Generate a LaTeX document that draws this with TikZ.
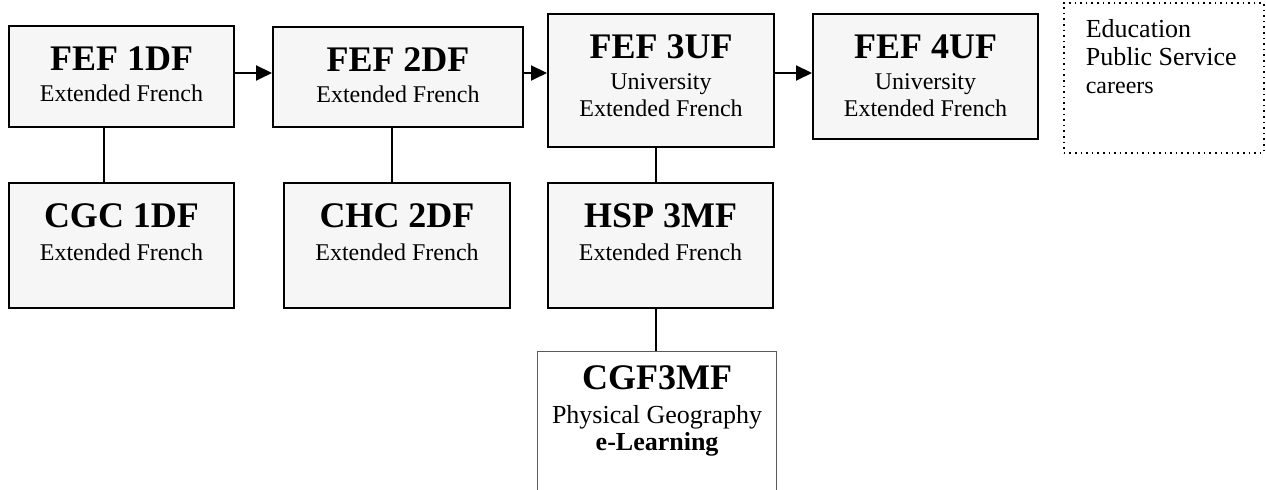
\documentclass[tikz,border=0pt]{standalone}
\usepackage{fontspec}
\setmainfont{Liberation Serif}
\usetikzlibrary{arrows.meta}

\definecolor{boxfill}{RGB}{246,246,246}
\definecolor{thinedge}{RGB}{90,90,90}

% box contents: width, height, top padding, body
\newcommand{\coursebox}[4]{\parbox[c][#2][t]{#1}{\centering\vspace*{#3}#4\par}}
\newcommand{\ctitle}[1]{{\fontsize{18}{18}\selectfont\bfseries #1\par}}
\newcommand{\csub}[1]{{\fontsize{12}{15.5}\selectfont #1\par}}
\newcommand{\csubwide}[1]{{\fontsize{12}{16.5}\selectfont #1\par}}

\tikzset{
  course/.style={draw=black, line width=1pt, fill=boxfill, inner sep=0pt, anchor=north west},
  webcourse/.style={draw=thinedge, line width=0.6pt, fill=white, inner sep=0pt, anchor=north west},
  note/.style={draw=black, dotted, line width=0.8pt, inner sep=0pt, anchor=north west},
  next/.style={line width=1pt, -{Triangle[length=8pt,width=7.5pt]}},
  link/.style={line width=1pt},
}

\begin{document}
\begin{tikzpicture}[x=0.5pt,y=-0.5pt]
\clip (0,0) rectangle (1266,490);

% French pathway, top row
\node[course] (a1) at (8,25)
  {\coursebox{112.5pt}{50.5pt}{10.5pt}{\ctitle{FEF 1DF}\csub{Extended French}}};
\node[course] (a2) at (272,26)
  {\coursebox{125pt}{50pt}{10.5pt}{\ctitle{FEF 2DF}\csub{Extended French}}};
\node[course] (a3) at (547,13)
  {\coursebox{113pt}{66.5pt}{10.5pt}{\ctitle{FEF 3UF}{\fontsize{12}{15.5}\selectfont University\\[-2pt]Extended French\par}}};
\node[course] (a4) at (812,13)
  {\coursebox{112.5pt}{62.5pt}{10.5pt}{\ctitle{FEF 4UF}{\fontsize{12}{15.5}\selectfont University\\[-2pt]Extended French\par}}};

% companion courses, second row
\node[course] (b1) at (8,182)
  {\coursebox{112.5pt}{62.5pt}{10.5pt}{\ctitle{CGC 1DF}\csubwide{Extended French}}};
\node[course] (b2) at (283,182)
  {\coursebox{113pt}{62.5pt}{10.5pt}{\ctitle{CHC 2DF}\csubwide{Extended French}}};
\node[course] (b3) at (547,182)
  {\coursebox{112.5pt}{62.5pt}{10.5pt}{\ctitle{HSP 3MF}\csubwide{Extended French}}};

% online course
\node[webcourse] (c3) at (537,351)
  {\coursebox{119.5pt}{71pt}{7pt}{\ctitle{CGF3MF}{\fontsize{13}{17}\selectfont Physical Geography\\[-3.5pt]\bfseries e-Learning\par}}};

% destinations
\node[note] (d) at (1063,2)
  {\parbox[c][75pt][t]{100pt}{\raggedright\leftskip=11pt\vspace*{8.5pt}%
    {\fontsize{13}{14}\selectfont Education\\Public Service\par}%
    {\fontsize{12}{14}\selectfont careers\par}}};

% connector guides
\coordinate (lvl) at (0,73);
\coordinate (v1) at (104,0);
\coordinate (v2) at (392,0);
\coordinate (v3) at (656,0);

\draw[next] (a1.east |- lvl) -- (a2.west |- lvl);
\draw[next] (a2.east |- lvl) -- (a3.west |- lvl);
\draw[next] (a3.east |- lvl) -- (a4.west |- lvl);

\draw[link] (a1.south -| v1) -- (b1.north -| v1);
\draw[link] (a2.south -| v2) -- (b2.north -| v2);
\draw[link] (a3.south -| v3) -- (b3.north -| v3);
\draw[link] (b3.south -| v3) -- (c3.north -| v3);
\end{tikzpicture}
\end{document}
